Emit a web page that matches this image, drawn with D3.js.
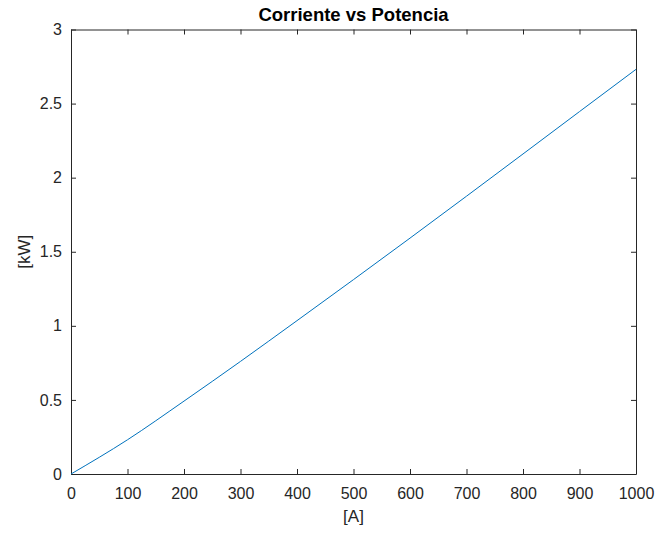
<!DOCTYPE html>
<html>
<head>
<meta charset="utf-8">
<script src="https://cdn.jsdelivr.net/npm/d3@7/dist/d3.min.js"></script>
<style>
  html, body { margin: 0; padding: 0; background: #fff; }
  svg { display: block; font-family: "Liberation Sans", Arial, Helvetica, sans-serif; }
</style>
</head>
<body>
<svg id="chart" width="657" height="534"></svg>
<script>
// Current [A] against power [kW]
const corriente = [0, 100, 200, 300, 400, 500, 600, 700, 800, 900, 1000];
const potencia  = [0, 0.231, 0.492, 0.760, 1.035, 1.312, 1.592, 1.875, 2.160, 2.446, 2.731];
const xTicks = [0, 100, 200, 300, 400, 500, 600, 700, 800, 900, 1000];
const yTicks = [0, 0.5, 1, 1.5, 2, 2.5, 3];
const titulo = "Corriente vs Potencia";
const etiquetaX = "[A]";
const etiquetaY = "[kW]";

const svg = d3.select("#chart");
const plotLeft = 71, plotRight = 636, plotTop = 29.5, plotBottom = 474;
const axisColor = "#262626";

const x = d3.scaleLinear().domain([0, 1000]).range([plotLeft, plotRight]);
const y = d3.scaleLinear().domain([0, 3]).range([plotBottom, plotTop]);

const fmt = d => String(d);

// bottom axis, ticks pointing inward
const gx = svg.append("g").attr("transform", `translate(0,${plotBottom})`)
  .call(d3.axisBottom(x).tickValues(xTicks).tickFormat(fmt).tickSizeInner(-5).tickSizeOuter(0).tickPadding(14));
// top axis, no labels
const gxt = svg.append("g").attr("transform", `translate(0,${plotTop})`)
  .call(d3.axisTop(x).tickValues(xTicks).tickFormat("").tickSizeInner(-5).tickSizeOuter(0));
// left axis
const gy = svg.append("g").attr("transform", `translate(${plotLeft},0)`)
  .call(d3.axisLeft(y).tickValues(yTicks).tickFormat(fmt).tickSizeInner(-5).tickSizeOuter(0).tickPadding(9));
// right axis, no labels
const gyr = svg.append("g").attr("transform", `translate(${plotRight},0)`)
  .call(d3.axisRight(y).tickValues(yTicks).tickFormat("").tickSizeInner(-5).tickSizeOuter(0));

[gx, gxt, gy, gyr].forEach(g => {
  g.selectAll("path.domain").attr("stroke", axisColor).attr("stroke-width", 1);
  g.selectAll(".tick line").attr("stroke", axisColor).attr("stroke-width", 1);
  g.selectAll(".tick text").attr("fill", axisColor)
    .style("font-size", "16px").style("font-family", "'Liberation Sans', Arial, sans-serif");
});

// data line
const line = d3.line()
  .x((d, i) => x(corriente[i]))
  .y(d => y(d))
  .curve(d3.curveMonotoneX);

svg.append("path")
  .datum(potencia)
  .attr("d", line)
  .attr("fill", "none")
  .attr("stroke", "#0072BD")
  .attr("stroke-width", 1);

// title
svg.append("text")
  .attr("x", (plotLeft + plotRight) / 2)
  .attr("y", 21)
  .attr("text-anchor", "middle")
  .attr("fill", "#000")
  .style("font-size", "18.5px")
  .style("font-weight", "bold")
  .text(titulo);

// axis labels
svg.append("text")
  .attr("x", (plotLeft + plotRight) / 2)
  .attr("y", 522)
  .attr("text-anchor", "middle")
  .attr("fill", axisColor)
  .style("font-size", "17px")
  .text(etiquetaX);

svg.append("text")
  .attr("transform", `translate(30,${(plotTop + plotBottom) / 2}) rotate(-90)`)
  .attr("text-anchor", "middle")
  .attr("fill", axisColor)
  .style("font-size", "17px")
  .text(etiquetaY);
</script>
</body>
</html>
